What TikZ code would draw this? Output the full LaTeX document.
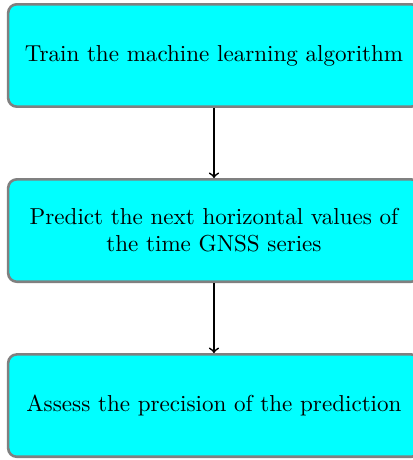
\documentclass[tikz,border=0pt]{standalone}
\usepackage{tikz}
\usetikzlibrary{shapes,arrows,positioning}
\definecolor{boxcyan}{RGB}{0,255,255}
\tikzset{
    block/.style={rectangle, draw=gray, very thick, fill=boxcyan, text width=183.4pt, align=center, rounded corners, minimum height=47.6pt, inner sep=4pt, font=\fontsize{10.73}{12.5}\selectfont},
    line/.style={draw, thick, ->}
}
\begin{document}
\begin{tikzpicture}
    \useasboundingbox (0,0) rectangle (191.6pt,-213.9pt);
    \node [block] (train) at (99.5pt,-25.8pt) {Train the machine learning algorithm};
    \node [block, below=32.6pt of train] (predict) {Predict the next horizontal values of\\ the time GNSS series};
    \node [block, below=32.6pt of predict] (assess) {Assess the precision of the prediction};

    % Steps
    \path [line] (train) -- (predict);
    \path [line] (predict) -- (assess);
\end{tikzpicture}
\end{document}
